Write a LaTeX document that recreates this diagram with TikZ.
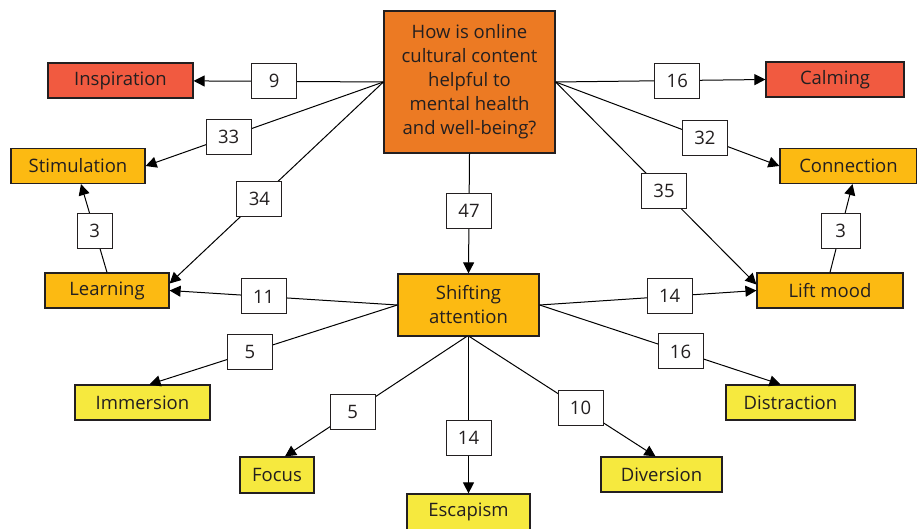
\documentclass[tikz,border=0pt]{standalone}
\usepackage{fontspec}
\setmainfont{Open Sans}
\usetikzlibrary{arrows.meta,calc}
\definecolor{cred}{HTML}{F15A40}
\definecolor{corange}{HTML}{EC7A23}
\definecolor{camber}{HTML}{FCBA12}
\definecolor{cyellow}{HTML}{F6E93E}
\definecolor{cink}{HTML}{231F20}
\begin{document}
\begin{tikzpicture}[x=1pt,y=-1pt,
  font=\fontsize{18.5}{24}\selectfont, text=cink,
  box/.style={draw=cink, line width=1.2pt, minimum height=35pt, inner sep=1pt},
  lab/.style={draw=cink, fill=white, line width=1pt, minimum width=45pt, minimum height=35pt, inner sep=0pt},
  arr/.style={draw=black, line width=1pt, -{Triangle[length=11pt,width=11pt]}}]
\useasboundingbox (0,0) rectangle (917,529);

% nodes
\node[box, fill=corange, minimum width=171pt, minimum height=142pt, align=center] (q) at (469.5,82)
  {How is online\\cultural content\\helpful to\\mental health\\and well-being?};
\node[box, fill=cred, minimum width=145pt] (insp) at (120.5,80.5) {Inspiration};
\node[box, fill=cred, minimum width=138pt] (calm) at (835,79.5) {Calming};
\node[box, fill=camber, minimum width=134pt] (stim) at (78,166) {Stimulation};
\node[box, fill=camber, minimum width=137pt] (conn) at (848.5,166) {Connection};
\node[box, fill=camber, minimum width=124pt] (learn) at (107,290.5) {Learning};
\node[box, fill=camber, minimum width=146pt] (lift) at (830,290.5) {Lift mood};
\node[box, fill=camber, minimum width=141pt, minimum height=62pt, align=center] (shift) at (468.5,305)
  {Shifting\\attention};
\node[box, fill=cyellow, minimum width=135pt] (imm) at (142.5,402.5) {Immersion};
\node[box, fill=cyellow, minimum width=74pt, minimum height=36pt] (focus) at (277,475) {Focus};
\node[box, fill=cyellow, minimum width=123pt, minimum height=36pt] (esc) at (468.5,512) {Escapism};
\node[box, fill=cyellow, minimum width=121pt] (div) at (661.5,474.5) {Diversion};
\node[box, fill=cyellow, minimum width=129pt] (dist) at (790.5,402.5) {Distraction};

% connectors from the question
\draw[arr] (q.west) -- node[lab, pos=0.576] {9} (insp);
\draw[arr] (q.west) -- node[lab, pos=0.651] {33} (stim.east);
\draw[arr] (q.west) -- node[lab, pos=0.58] {34} ($(learn.east)+(0,-7)$);
\draw[arr] (q.east) -- node[lab, pos=0.58] {16} (calm.west);
\draw[arr] (q.east) -- node[lab, pos=0.667] {32} (conn.west);
\draw[arr] (q.east) -- node[lab, pos=0.54] {35} ($(lift.west)+(0,-6)$);
\draw[arr] (q.south) -- node[lab, pos=0.475] {47} (shift.north);

% upward links
\draw[arr] (learn.north) -- node[lab, pos=0.47, minimum width=35pt] {3} ($(stim.south)+(3,0)$);
\draw[arr] (lift.north) -- node[lab, pos=0.47, minimum width=39pt] {3} ($(conn.south)+(4,0)$);

% connectors from shifting attention
\draw[arr] (shift.west) -- node[lab, pos=0.587] {11} (learn.east);
\draw[arr] (shift.east) -- node[lab, pos=0.6] {14} (lift.west);
\draw[arr] (shift.west) -- node[lab, pos=0.595] {5} ($(imm.north)+(7,0)$);
\draw[arr] ($(shift.south)+(-2,0)$) -- node[lab, pos=0.627] {5} ($(focus.north)+(8,0)$);
\draw[arr] (shift.south) -- node[lab, pos=0.645] {14} (esc.north);
\draw[arr] ($(shift.south)+(1,0)$) -- node[lab, pos=0.597] {10} ($(div.north)+(-6,0)$);
\draw[arr] (shift.east) -- node[lab, pos=0.585] {16} ($(dist.north)+(-10,0)$);
\end{tikzpicture}
\end{document}
